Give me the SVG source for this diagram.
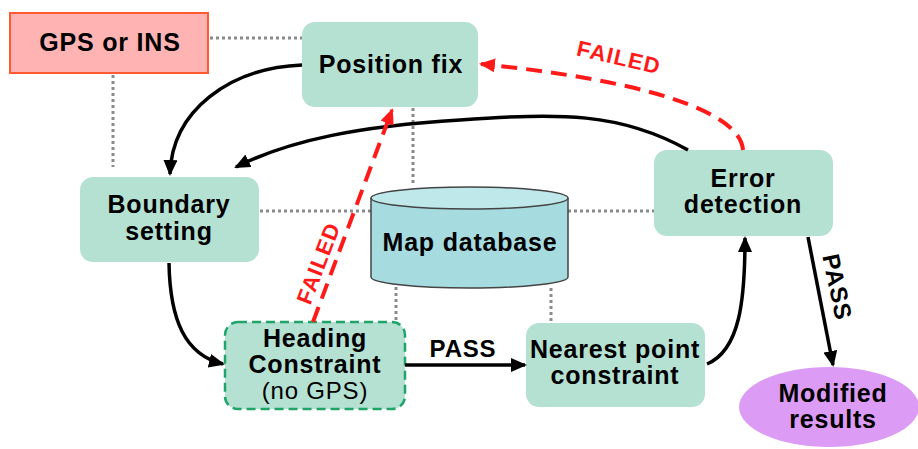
<svg xmlns="http://www.w3.org/2000/svg" width="918" height="449" viewBox="0 0 918 449">
<defs>
<marker id="ab" markerUnits="userSpaceOnUse" markerWidth="16" markerHeight="14" refX="14" refY="7" orient="auto"><path d="M0,0 L16,7 L0,14 Z" fill="#000"/></marker>
<marker id="ar" markerUnits="userSpaceOnUse" markerWidth="16" markerHeight="14" refX="14" refY="7" orient="auto"><path d="M0,0 L16,7 L0,14 Z" fill="#ff1a1a"/></marker>
</defs>
<style>
text{font-family:"Liberation Sans",Arial,sans-serif;font-weight:bold;font-size:25px;letter-spacing:0.8px;fill:#000;text-anchor:middle}
.box{fill:#b5e1d2}
.dot{fill:none;stroke:#8a8a8a;stroke-width:3;stroke-dasharray:3,3}
.blk{fill:none;stroke:#000;stroke-width:3.5}
.red{fill:none;stroke:#ff1a1a;stroke-width:4;stroke-dasharray:16,9}
.lbl{font-size:22px;fill:#ff1a1a;letter-spacing:1.2px}
.pass{font-size:24px}
</style>
<rect width="918" height="449" fill="#fff"/>
<g id="dotted">
<path class="dot" d="M210,38 H302"/>
<path class="dot" d="M113,75 V167"/>
<path class="dot" d="M413,108 V186"/>
<path class="dot" d="M260,211 H371"/>
<path class="dot" d="M568,211 H654"/>
<path class="dot" d="M396,287 V321"/>
<path class="dot" d="M551,288 V323"/>
</g>
<g id="gps">
<rect x="10" y="13" width="198" height="60" fill="#ffb3b3" stroke="#ff5a33" stroke-width="2"/>
<text x="110" y="51">GPS or INS</text>
</g>
<g id="position-fix">
<rect class="box" x="302" y="22" width="176" height="85" rx="13"/>
<text x="391" y="73">Position fix</text>
</g>
<g id="boundary">
<rect class="box" x="80" y="177" width="179" height="85" rx="13"/>
<text x="169" y="213">Boundary</text>
<text x="169" y="240">setting</text>
</g>
<g id="map-database">
<path d="M371,198 V277 A98.5,11 0 0 0 568,277 V198" fill="#a6dbe0" stroke="#444" stroke-width="1.5"/>
<ellipse cx="469.5" cy="198" rx="98.5" ry="11" fill="#bfe8eb" stroke="#444" stroke-width="1.5"/>
<text x="470" y="251">Map database</text>
</g>
<g id="error-detection">
<rect class="box" x="654" y="150" width="179" height="86" rx="13"/>
<text x="743" y="187">Error</text>
<text x="743" y="213">detection</text>
</g>
<g id="heading">
<rect class="box" x="225" y="322" width="180" height="87" rx="13" stroke="#1fa469" stroke-width="2.5" stroke-dasharray="9,5"/>
<text x="315" y="347">Heading</text>
<text x="315" y="373">Constraint</text>
<text x="315" y="399" style="font-weight:normal;font-size:24px">(no GPS)</text>
</g>
<g id="nearest">
<rect class="box" x="526" y="323" width="179" height="84" rx="13"/>
<text x="615" y="358">Nearest point</text>
<text x="615" y="384">constraint</text>
</g>
<g id="modified">
<ellipse cx="829" cy="407" rx="90" ry="40" fill="#dc9bf5"/>
<text x="833" y="402">Modified</text>
<text x="833" y="428">results</text>
</g>
<g id="connectors">
<path class="blk" d="M302,65 C230,68 172,110 170,174" marker-end="url(#ab)"/>
<path class="blk" d="M688,150 C620,112 560,113 460,120 C360,126 290,140 236,167" marker-end="url(#ab)"/>
<path class="blk" d="M169,263 C170,320 185,355 223,364" marker-end="url(#ab)"/>
<path class="blk" d="M405,365 H525" marker-end="url(#ab)"/>
<path class="blk" d="M707,364 C740,350 745,300 745,238" marker-end="url(#ab)"/>
<path class="blk" d="M808,237 L833,365" marker-end="url(#ab)"/>
<path class="red" d="M313,322 L392,110" marker-end="url(#ar)"/>
<path class="red" d="M743,150 C740,110 640,80 481,64" marker-end="url(#ar)"/>
<text class="pass" x="463" y="357">PASS</text>
<text class="pass" transform="translate(837,287) rotate(78)" x="0" y="8">PASS</text>
<text class="lbl" transform="translate(318,263) rotate(-69)" x="0" y="8">FAILED</text>
<text class="lbl" transform="translate(619,57) rotate(13)" x="0" y="8">FAILED</text>
</g>
</svg>
